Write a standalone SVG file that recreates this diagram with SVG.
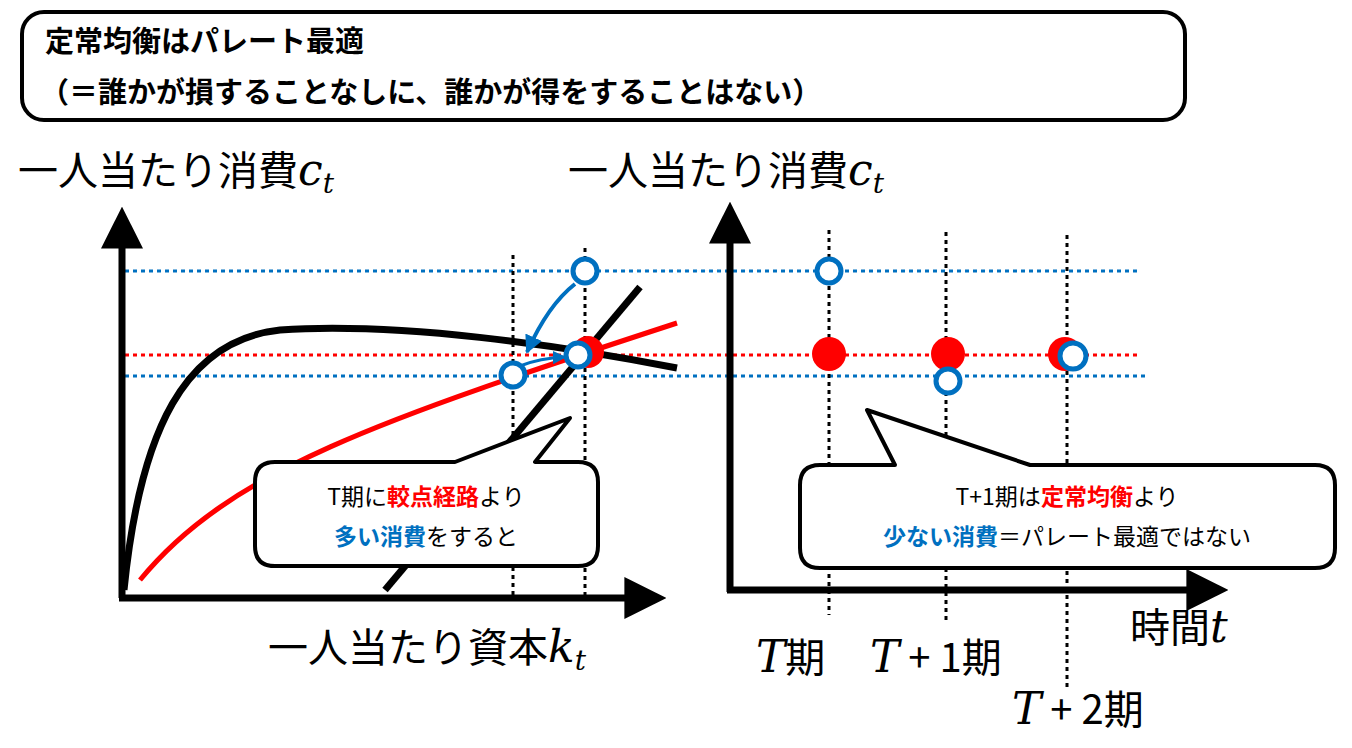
<svg xmlns="http://www.w3.org/2000/svg" width="1352" height="748" viewBox="0 0 1352 748">
<style>
.t{font-family:"Noto Sans CJK JP","Liberation Sans",sans-serif}
.m{font-family:"DejaVu Serif","Liberation Serif",serif;font-style:italic}
.ax{stroke:#000;stroke-width:7;fill:none}
.dk{stroke:#000;stroke-width:3;stroke-dasharray:4 4;fill:none}
.db{stroke:#0070C0;stroke-width:3;stroke-dasharray:4 4;fill:none}
.dr{stroke:#f00;stroke-width:3;stroke-dasharray:4 4;fill:none}
.oc{fill:#fff;stroke:#0070C0;stroke-width:5}
.rc{fill:#f00}
.cb{fill:#fff;stroke:#000;stroke-width:4;stroke-linejoin:round}
</style>
<defs>
<marker id="ah" viewBox="0 0 10 10" refX="9" refY="5" markerWidth="4.5" markerHeight="4.5" orient="auto"><path d="M0,0L10,5L0,10z" fill="#0070C0"/></marker>
<marker id="ak" viewBox="0 0 10 10" refX="8" refY="5" markerWidth="6" markerHeight="6" orient="auto"><path d="M0,0L10,5L0,10z" fill="#000"/></marker>
</defs>
<g id="title"><rect x="22" y="12" width="1163" height="108" rx="22" fill="#fff" stroke="#000" stroke-width="4"/>
<text class="t" x="45" y="52" font-size="29" font-weight="bold">定常均衡はパレート最適</text>
<text class="t" x="40" y="103" font-size="29" font-weight="bold">（＝誰かが損することなしに、誰かが得をすることはない）</text></g>
<g id="guides">
<line class="db" x1="125" y1="271" x2="1140" y2="271"/>
<line class="dr" x1="125" y1="355" x2="1140" y2="355"/>
<line class="db" x1="125" y1="376" x2="1145" y2="376"/>
<line class="dk" x1="513" y1="255" x2="513" y2="595"/>
<line class="dk" x1="585" y1="248" x2="585" y2="595"/>
<line class="dk" x1="829" y1="230" x2="829" y2="615"/>
<line class="dk" x1="946" y1="232" x2="946" y2="620"/>
<line class="dk" x1="1067" y1="235" x2="1067" y2="690"/>
</g>
<g id="axes">
<path class="ax" d="M122,598V215" marker-end="url(#ak)"/>
<path class="ax" d="M119,598H658" marker-end="url(#ak)"/>
<path class="ax" d="M730,592V210" marker-end="url(#ak)"/>
<path class="ax" d="M727,590H1220" marker-end="url(#ak)"/>
</g>
<g id="curves">
<path d="M124,590 C140,430 185,340 280,330 C400,322 560,345 677,368" stroke="#000" stroke-width="7" fill="none"/>
<path d="M140,580 C230,470 380,420 677,323" stroke="#f00" stroke-width="5" fill="none"/>
<line x1="385" y1="590" x2="640" y2="287" stroke="#000" stroke-width="7"/>
</g>
<g id="callout1"><path class="cb" d="M275,462H455L570,418L535,462H578Q598,462 598,482V546Q598,566 578,566H275Q255,566 255,546V482Q255,462 275,462Z"/>
<text class="t" x="426" y="505" font-size="23" text-anchor="middle">T期に<tspan fill="#f00" font-weight="bold">較点経路</tspan>より</text>
<text class="t" x="426" y="545" font-size="23" text-anchor="middle"><tspan fill="#0070C0" font-weight="bold">多い消費</tspan>をすると</text></g>
<g id="callout2"><path class="cb" d="M820,465H895L867,410L1030,465H1315Q1335,465 1335,485V548Q1335,568 1315,568H820Q800,568 800,548V485Q800,465 820,465Z"/>
<text class="t" x="1067" y="505" font-size="23" text-anchor="middle">T+1期は<tspan fill="#f00" font-weight="bold">定常均衡</tspan>より</text>
<text class="t" x="1067" y="545" font-size="23" text-anchor="middle"><tspan fill="#0070C0" font-weight="bold">少ない消費</tspan>＝パレート最適ではない</text></g>
<g id="connectors">
<path d="M575,284 Q548,305 527,352" stroke="#0070C0" stroke-width="4" fill="none" marker-end="url(#ah)"/>
<path d="M520,366 Q540,358 565,357" stroke="#0070C0" stroke-width="3" fill="none" marker-end="url(#ah)"/>
</g>
<g id="points">
<circle class="oc" cx="585" cy="271" r="12"/>
<circle class="rc" cx="588" cy="352" r="16"/>
<circle class="oc" cx="578" cy="355" r="12"/>
<circle class="oc" cx="513" cy="375" r="12"/>
<circle class="oc" cx="829" cy="271" r="12"/>
<circle class="rc" cx="829" cy="354" r="17"/>
<circle class="rc" cx="948" cy="354" r="17"/>
<circle class="oc" cx="948" cy="381" r="12"/>
<circle class="rc" cx="1065" cy="354" r="17"/>
<circle class="oc" cx="1073" cy="356" r="13"/>
</g>
<g id="labels" font-size="40">
<text class="t" x="18" y="185">一人当たり消費<tspan class="m" font-size="44">c<tspan font-size="28" dy="8">t</tspan></tspan></text>
<text class="t" x="568" y="185">一人当たり消費<tspan class="m" font-size="44">c<tspan font-size="28" dy="8">t</tspan></tspan></text>
<text class="t" x="268" y="662">一人当たり資本<tspan class="m" font-size="44">k<tspan font-size="28" dy="8">t</tspan></tspan></text>
<text class="t" x="1130" y="642">時間<tspan class="m" font-size="44">t</tspan></text>
<text class="t" x="756" y="672"><tspan class="m" font-size="44">T</tspan>期</text>
<text class="t" x="870" y="672"><tspan class="m" font-size="44">T</tspan> + 1期</text>
<text class="t" x="1012" y="724"><tspan class="m" font-size="44">T</tspan> + 2期</text>
</g>
</svg>
